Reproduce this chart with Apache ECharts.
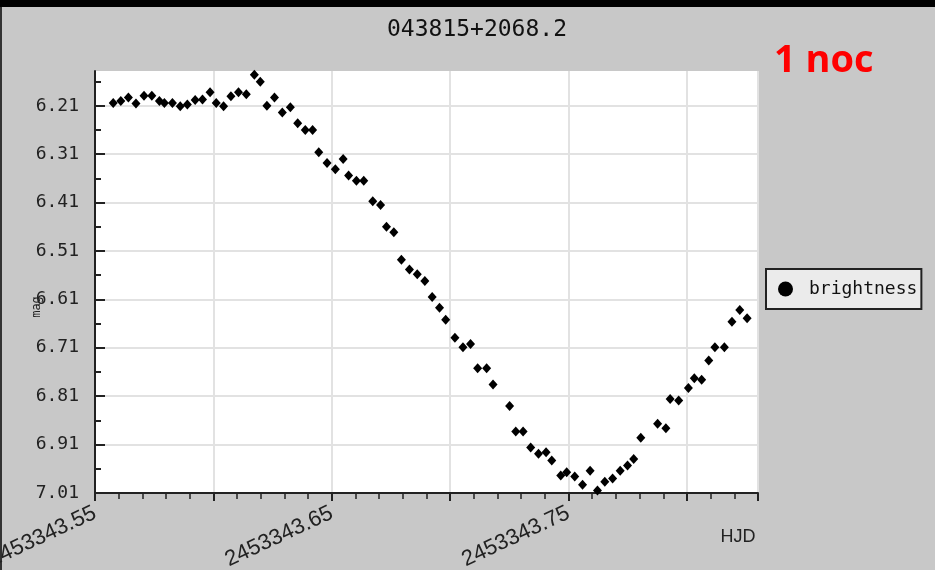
<!DOCTYPE html>
<html>
<head>
<meta charset="utf-8">
<script src="https://cdn.jsdelivr.net/npm/echarts@6/dist/echarts.min.js"></script>
<style>
  html, body { margin: 0; padding: 0; background: #c8c8c8; }
  #chart { width: 935px; height: 570px; }
</style>
</head>
<body>
<div id="chart"></div>
<script>
/** light curve: HJD and magnitude */
const hjd = [
  2453343.5577, 2453343.5609, 2453343.5641, 2453343.5673, 2453343.5707, 2453343.5740, 2453343.5772, 2453343.5793, 2453343.5827, 2453343.5860,
  2453343.5890, 2453343.5923, 2453343.5954, 2453343.5986, 2453343.6012, 2453343.6043, 2453343.6074, 2453343.6106, 2453343.6139, 2453343.6173,
  2453343.6198, 2453343.6226, 2453343.6258, 2453343.6291, 2453343.6325, 2453343.6356, 2453343.6388, 2453343.6419, 2453343.6445, 2453343.6480,
  2453343.6515, 2453343.6548, 2453343.6571, 2453343.6604, 2453343.6635, 2453343.6673, 2453343.6706, 2453343.6731, 2453343.6762, 2453343.6794,
  2453343.6828, 2453343.6861, 2453343.6893, 2453343.6924, 2453343.6955, 2453343.6981, 2453343.7020, 2453343.7054, 2453343.7086, 2453343.7116,
  2453343.7154, 2453343.7181, 2453343.7251, 2453343.7277, 2453343.7308, 2453343.7340, 2453343.7373, 2453343.7405, 2453343.7429, 2453343.7467,
  2453343.7492, 2453343.7526, 2453343.7559, 2453343.7591, 2453343.7622, 2453343.7653, 2453343.7686, 2453343.7718, 2453343.7749, 2453343.7775,
  2453343.7805, 2453343.7876, 2453343.7911, 2453343.7929, 2453343.7965, 2453343.8006, 2453343.8031, 2453343.8062, 2453343.8092, 2453343.8118,
  2453343.8158, 2453343.8190, 2453343.8223, 2453343.8254
];
const mag = [
  6.204, 6.200, 6.193, 6.205, 6.189, 6.189, 6.200, 6.204, 6.204, 6.211,
  6.207, 6.198, 6.197, 6.182, 6.204, 6.211, 6.190, 6.182, 6.186, 6.146,
  6.160, 6.210, 6.193, 6.224, 6.213, 6.246, 6.260, 6.260, 6.306, 6.328,
  6.341, 6.320, 6.354, 6.365, 6.365, 6.407, 6.415, 6.460, 6.471, 6.528,
  6.548, 6.558, 6.572, 6.605, 6.627, 6.652, 6.689, 6.709, 6.702, 6.752,
  6.752, 6.786, 6.830, 6.883, 6.883, 6.916, 6.929, 6.926, 6.943, 6.974,
  6.967, 6.976, 6.993, 6.964, 7.005, 6.987, 6.980, 6.964, 6.953, 6.940,
  6.896, 6.867, 6.876, 6.816, 6.819, 6.793, 6.773, 6.776, 6.736, 6.709,
  6.709, 6.656, 6.632, 6.649
];

/** axis ticks and labels */
const magTicks = [6.21, 6.31, 6.41, 6.51, 6.61, 6.71, 6.81, 6.91, 7.01];
const magMinorTicks = [6.16, 6.26, 6.36, 6.46, 6.56, 6.66, 6.76, 6.86, 6.96];
const hjdLabels = [2453343.55, 2453343.65, 2453343.75];

const points = hjd.map((x, i) => [x, mag[i]]);

const chart = echarts.init(document.getElementById("chart"));

const mono = "DejaVu Sans Mono";
const ink = "#222";

const option = {
  backgroundColor: "#c8c8c8",
  animation: false,
  title: [
    {
      text: "043815+2068.2",
      left: 472,
      top: 14,
      textAlign: "center",
      textStyle: { fontFamily: mono, fontSize: 23, fontWeight: "normal", color: "#111" }
    },
    {
      text: "1 noc",
      left: 769,
      top: 37,
      textStyle: { fontFamily: "Open Sans", fontSize: 38, fontWeight: "bold", color: "#ff0000" }
    }
  ],
  legend: {
    left: 766,
    top: 269,
    orient: "vertical",
    icon: "circle",
    itemWidth: 15,
    itemHeight: 15,
    itemGap: 0,
    padding: [11, 4, 11, 12],
    backgroundColor: "#ebebeb",
    borderColor: "#222",
    borderWidth: 2,
    textStyle: { fontFamily: mono, fontSize: 18, color: "#111", padding: [0, 0, 0, 11] },
    data: ["brightness"]
  },
  grid: {
    left: 95,
    top: 71,
    right: 177,
    bottom: 77,
    outerBoundsMode: "none",
    backgroundColor: "#fff",
    show: true,
    borderWidth: 0
  },
  xAxis: {
    type: "value",
    position: "bottom",
    min: 2453343.55,
    max: 2453343.83,
    interval: 0.05,
    axisLine: { onZero: false, lineStyle: { color: ink, width: 2 } },
    axisTick: { length: 8, lineStyle: { color: ink, width: 2 } },
    minorTick: { show: true, splitNumber: 5, length: 6, lineStyle: { color: ink, width: 1.5 } },
    splitLine: { show: true, lineStyle: { color: "#e2e2e2", width: 2 } },
    axisLabel: {
      customValues: hjdLabels,
      rotate: 25,
      margin: 19,
      hideOverlap: false,
      fontFamily: "Liberation Sans",
      fontSize: 22,
      color: ink,
      formatter: (v) => v.toFixed(2)
    }
  },
  yAxis: [
    {
      type: "value",
      inverse: true,
      min: 6.138,
      max: 7.01,
      axisLine: { show: true, onZero: false, lineStyle: { color: ink, width: 2 } },
      axisTick: { inside: true, length: 10, customValues: magTicks, lineStyle: { color: ink, width: 2 } },
      splitLine: { show: true, lineStyle: { color: "#e2e2e2", width: 2 } },
      axisLabel: {
        customValues: magTicks,
        margin: 16,
        hideOverlap: false,
        fontFamily: mono,
        fontSize: 18,
        color: ink,
        formatter: (v) => v.toFixed(2)
      }
    },
    {
      /** minor ticks only */
      type: "value",
      inverse: true,
      position: "left",
      min: 6.138,
      max: 7.01,
      axisLine: { show: false },
      axisTick: { inside: true, length: 6, customValues: magMinorTicks, lineStyle: { color: ink, width: 2 } },
      splitLine: { show: false },
      axisLabel: { show: false }
    }
  ],
  graphic: [
    { type: "rect", shape: { x: 0, y: 0, width: 935, height: 7 }, style: { fill: "#000" } },
    { type: "rect", shape: { x: 0, y: 7, width: 2, height: 563 }, style: { fill: "#333" } },
    {
      type: "text",
      x: 37,
      y: 307,
      rotation: Math.PI / 2,
      style: { text: "mag", font: "12px 'DejaVu Sans Mono'", fill: ink, align: "center", verticalAlign: "middle" }
    },
    {
      type: "text",
      x: 738,
      y: 537,
      style: { text: "HJD", font: "18px 'Liberation Sans'", fill: ink, align: "center", verticalAlign: "middle" }
    }
  ],
  series: [
    {
      name: "brightness",
      type: "scatter",
      xAxisIndex: 0,
      yAxisIndex: 0,
      symbol: "diamond",
      symbolSize: [9, 10],
      itemStyle: { color: "#000", opacity: 1 },
      data: points
    }
  ]
};

chart.setOption(option);
</script>
</body>
</html>
